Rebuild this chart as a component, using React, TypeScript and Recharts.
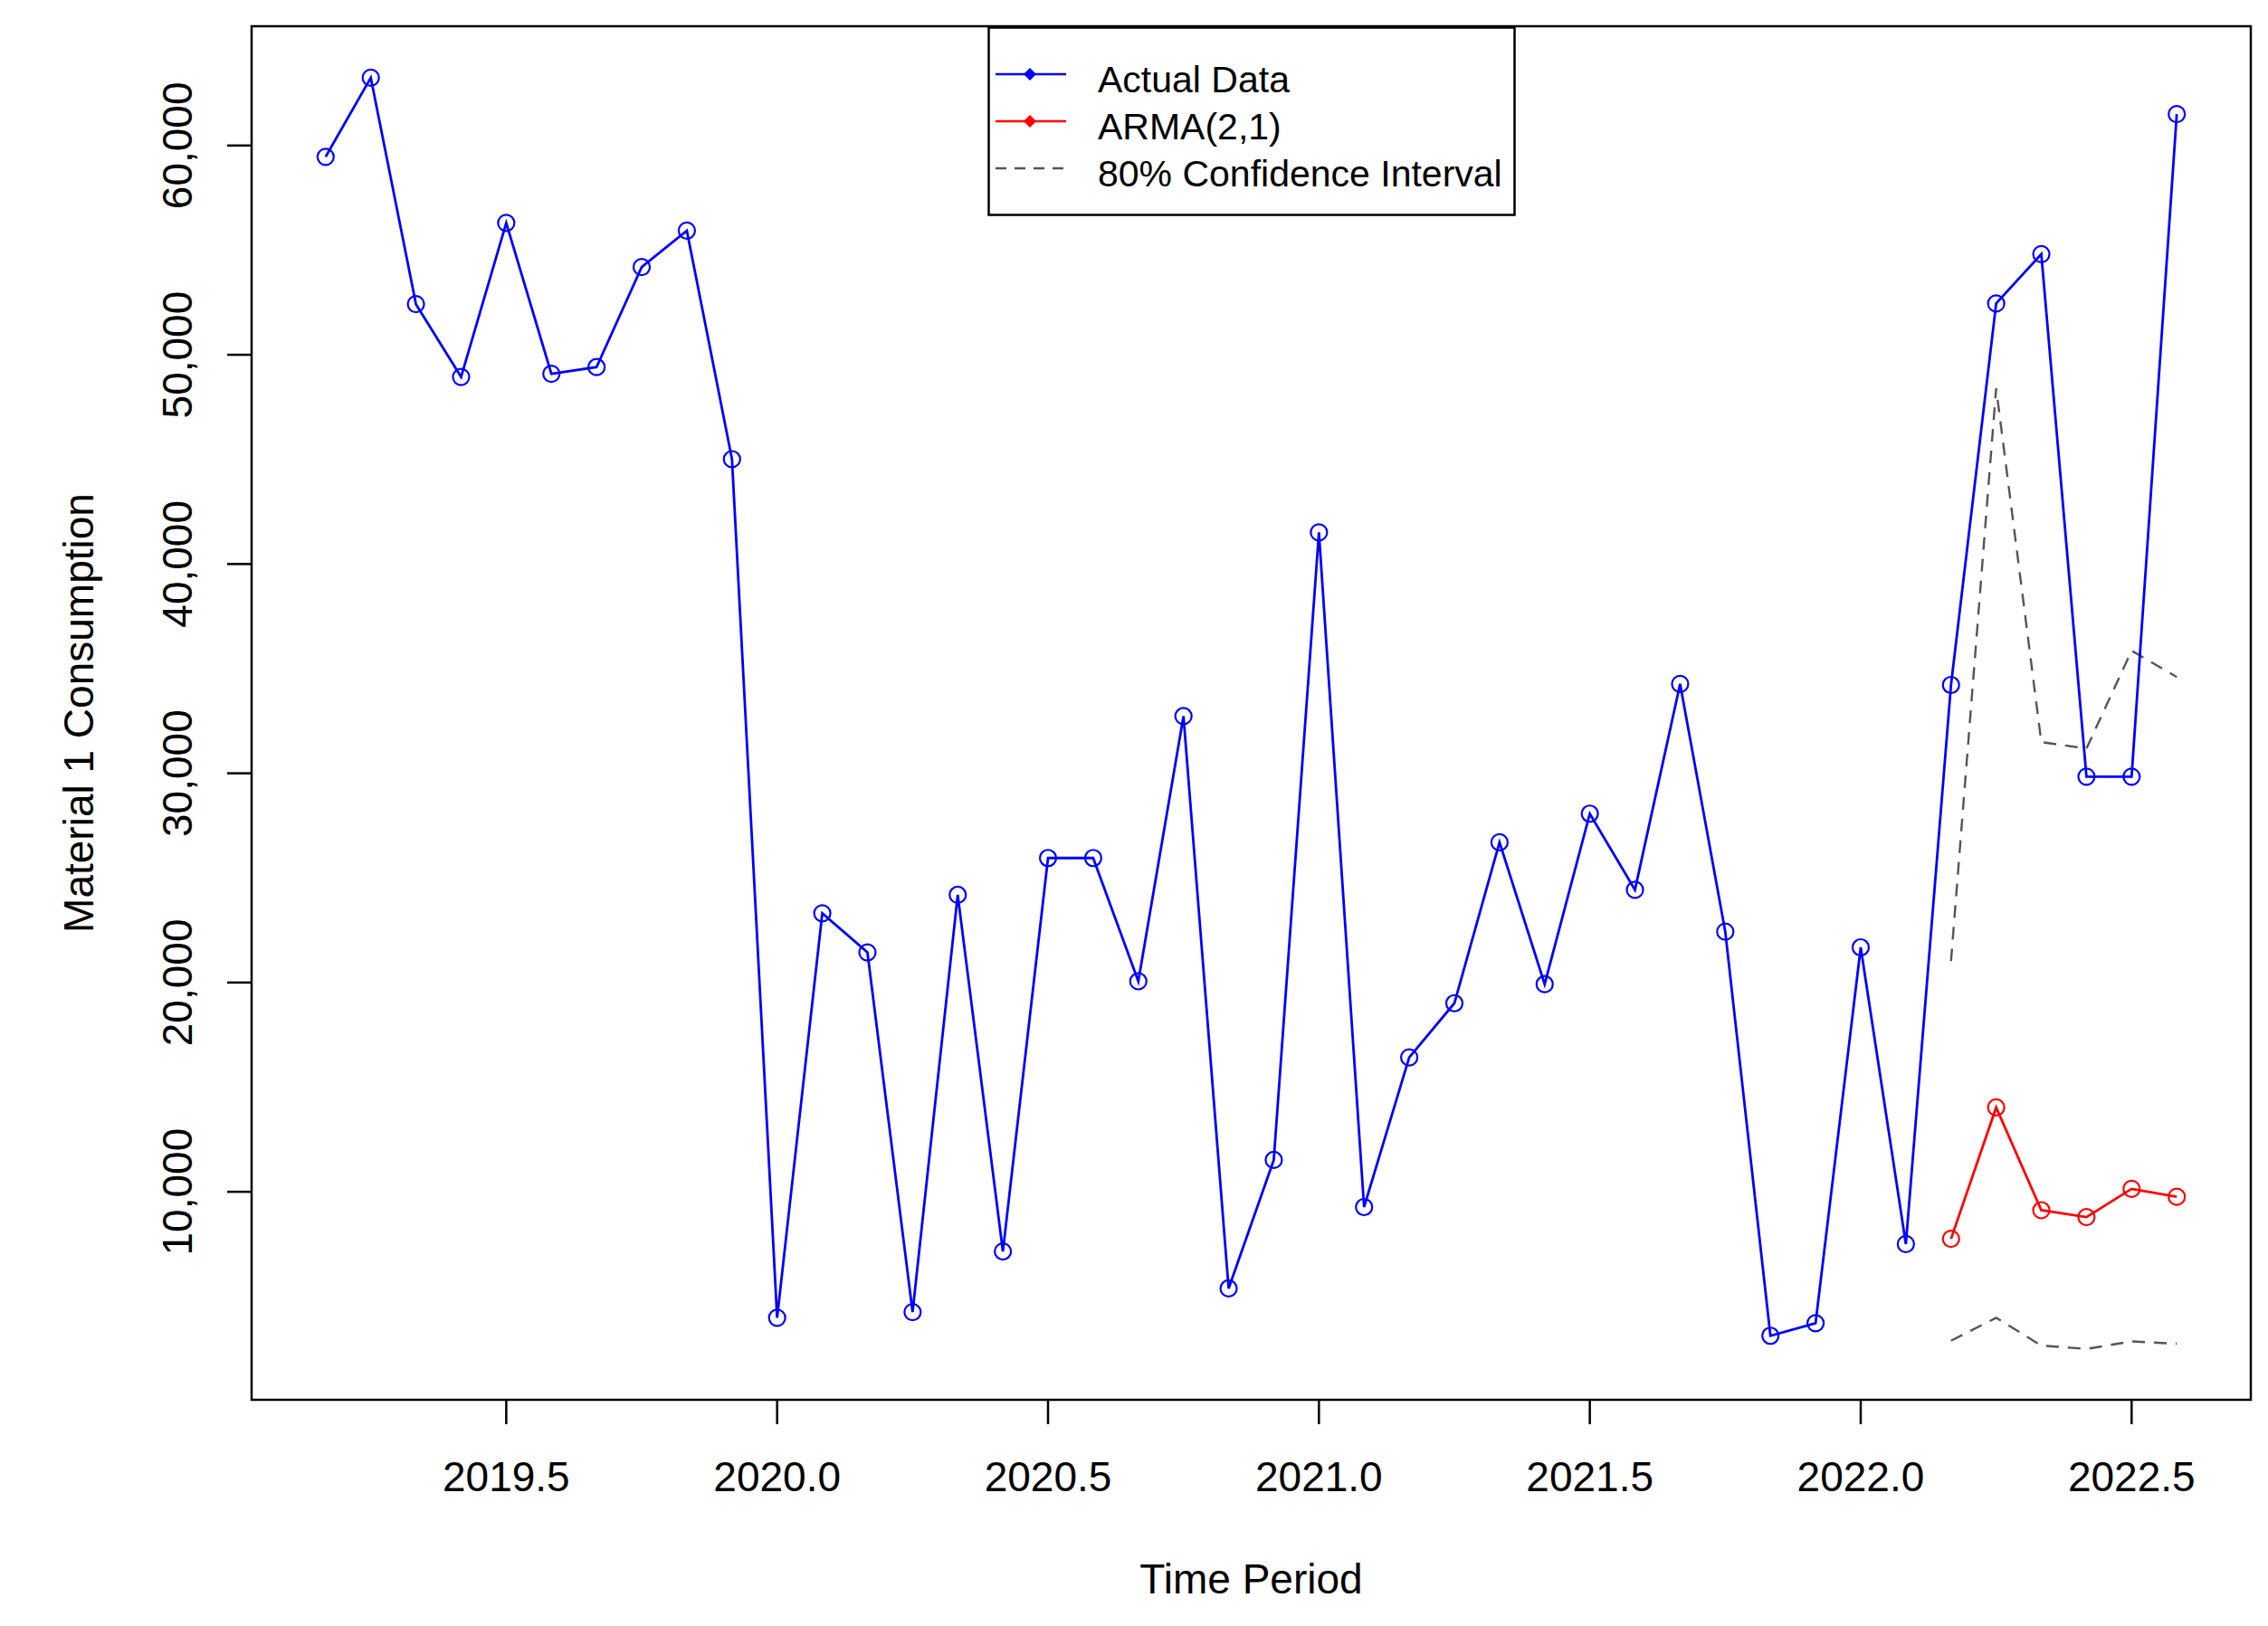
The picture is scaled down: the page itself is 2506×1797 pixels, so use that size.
import { LineChart, Line, XAxis, YAxis, ReferenceArea, Label } from "recharts";

// monthly series, first observation March 2019
const startYear = 2019;
const startMonthIndex = 2;

const actualData = [
  59460, 63240, 52420, 48940, 56300, 49090, 49410, 54190, 55930, 45010,
  3980, 23310, 21440, 4250, 24190, 7150, 25950, 25950, 20060, 32730,
  5380, 11520, 41510, 9270, 16420, 19010, 26700, 19920, 28070, 24430,
  34270, 22430, 3120, 3720, 21680, 7500, 34220, 52450, 54810, 29840,
  29840, 61500,
];

const forecastOffset = 36; // index of first forecast month (2022.167)
const armaForecast = [7750, 14030, 9120, 8790, 10140, 9760];
const upper80 = [21020, 48400, 31490, 31180, 35860, 34600];
const lower80 = [2880, 3980, 2650, 2490, 2850, 2740];

const xTicks = [2019.5, 2020, 2020.5, 2021, 2021.5, 2022, 2022.5];
const yTicks = [10000, 20000, 30000, 40000, 50000, 60000];
const xDomain: [number, number] = [2019.03, 2022.72];
const yDomain: [number, number] = [60, 65700];

const legendItems = [
  { label: "Actual Data", color: "#0000ff", dashed: false },
  { label: "ARMA(2,1)", color: "#ff0000", dashed: false },
  { label: "80% Confidence Interval", color: "#555555", dashed: true },
];

const rows = actualData.map((v, i) => {
  const j = i - forecastOffset;
  return {
    t: startYear + (startMonthIndex + i) / 12,
    actual: v,
    arma: j >= 0 ? armaForecast[j] : null,
    upper: j >= 0 ? upper80[j] : null,
    lower: j >= 0 ? lower80[j] : null,
  };
});

const FONT = '"Liberation Sans", Arial, sans-serif';

function ringDot(color: string) {
  return (props: any) => {
    const { cx, cy, index } = props;
    if (cx == null || cy == null) return <g key={`d-${index}`} />;
    return (
      <circle
        key={`d-${index}`}
        cx={cx}
        cy={cy}
        r={9}
        fill="none"
        stroke={color}
        strokeWidth={2.2}
      />
    );
  };
}

function YTick(props: any) {
  const { x, y, payload } = props;
  return (
    <text
      x={x}
      y={y}
      transform={`rotate(-90 ${x} ${y})`}
      textAnchor="middle"
      fontSize={46}
      fontFamily={FONT}
      fill="#000"
    >
      {Number(payload.value).toLocaleString("en-US")}
    </text>
  );
}

function ChartLegend() {
  return (
    <div style={{ position: "absolute", left: 1091, top: 29 }}>
      <svg width={584} height={211}>
        <rect x={1.5} y={1.5} width={581} height={207} fill="#fff" stroke="#000" strokeWidth={2.5} />
        {legendItems.map((item, i) => {
          const ly = 53 + i * 52;
          return (
            <g key={item.label}>
              <line
                x1={9}
                x2={87}
                y1={ly}
                y2={ly}
                stroke={item.color}
                strokeWidth={2.5}
                strokeDasharray={item.dashed ? "12 9" : undefined}
              />
              {!item.dashed && (
                <polygon
                  points={`47,${ly - 7} 54,${ly} 47,${ly + 7} 40,${ly}`}
                  fill={item.color}
                />
              )}
              <text x={122} y={ly + 20} fontSize={41} fontFamily={FONT} fill="#000">
                {item.label}
              </text>
            </g>
          );
        })}
      </svg>
    </div>
  );
}

export default function App() {
  return (
    <div
      style={{
        position: "absolute",
        left: 0,
        top: 0,
        width: 2506,
        height: 1797,
        background: "#fff",
        fontFamily: FONT,
      }}
    >
      <LineChart
        width={2506}
        height={1797}
        data={rows}
        margin={{ top: 29, right: 19, left: 0, bottom: 0 }}
      >
        <XAxis
          dataKey="t"
          type="number"
          domain={xDomain}
          ticks={xTicks}
          allowDataOverflow
          tickFormatter={(v) => Number(v).toFixed(1)}
          axisLine={false}
          tickLine={{ stroke: "#000", strokeWidth: 2.5 }}
          tickSize={27}
          tickMargin={41}
          height={250}
          tick={{ fontSize: 46, fill: "#000", fontFamily: FONT }}
        >
          <Label
            value="Time Period"
            position="insideBottom"
            offset={36}
            style={{ fontSize: 46, fill: "#000", fontFamily: FONT }}
          />
        </XAxis>
        <YAxis
          type="number"
          domain={yDomain}
          ticks={yTicks}
          allowDataOverflow
          axisLine={false}
          tickLine={{ stroke: "#000", strokeWidth: 2.5 }}
          tickSize={27}
          tickMargin={39}
          width={278}
          tick={<YTick />}
        >
          <Label
            content={() => (
              <text
                x={103}
                y={788}
                transform="rotate(-90 103 788)"
                textAnchor="middle"
                fontSize={46}
                fontFamily={FONT}
                fill="#000"
              >
                Material 1 Consumption
              </text>
            )}
          />
        </YAxis>
        <ReferenceArea
          x1={xDomain[0]}
          x2={xDomain[1]}
          y1={yDomain[0]}
          y2={yDomain[1]}
          fill="none"
          fillOpacity={0}
          stroke="#000"
          strokeWidth={2.5}
          ifOverflow="visible"
        />
        <Line
          dataKey="upper"
          stroke="#555555"
          strokeWidth={2.4}
          strokeDasharray="14 10"
          dot={false}
          activeDot={false}
          isAnimationActive={false}
        />
        <Line
          dataKey="lower"
          stroke="#555555"
          strokeWidth={2.4}
          strokeDasharray="14 10"
          dot={false}
          activeDot={false}
          isAnimationActive={false}
        />
        <Line
          dataKey="actual"
          stroke="#0000ff"
          strokeWidth={2.8}
          dot={ringDot("#0000ff")}
          activeDot={false}
          isAnimationActive={false}
        />
        <Line
          dataKey="arma"
          stroke="#ff0000"
          strokeWidth={2.8}
          dot={ringDot("#ff0000")}
          activeDot={false}
          isAnimationActive={false}
        />
      </LineChart>
      <ChartLegend />
    </div>
  );
}
